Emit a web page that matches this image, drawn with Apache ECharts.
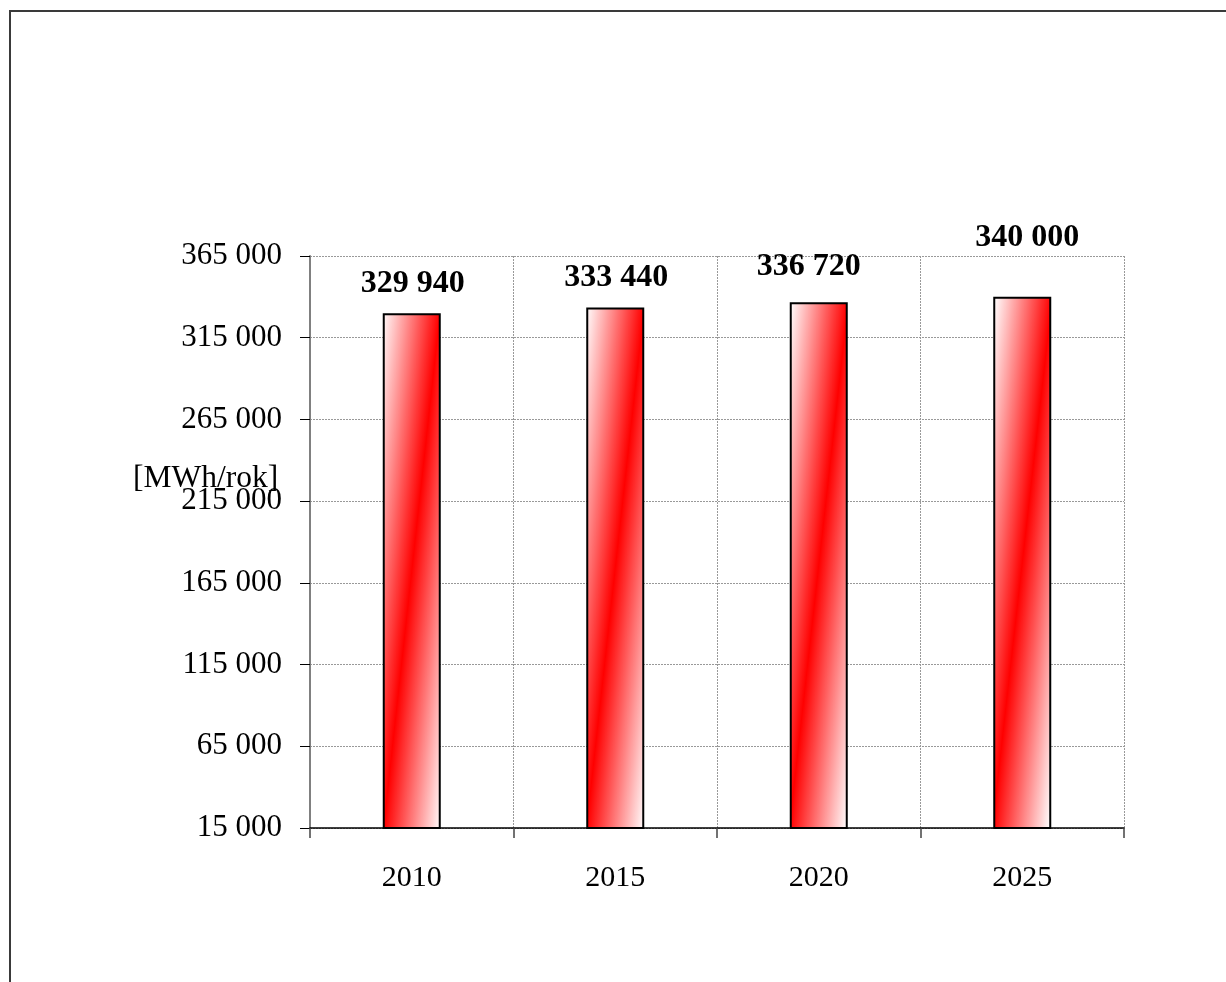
<!DOCTYPE html>
<html>
<head>
<meta charset="utf-8">
<script src="https://cdn.jsdelivr.net/npm/echarts@6/dist/echarts.min.js"></script>
<style>
html,body{margin:0;padding:0;background:#fff;}
#c{width:1226px;height:982px;}
</style>
</head>
<body>
<div id="c"></div>
<script>
const categories = ['2010', '2015', '2020', '2025'];
const values = [329940, 333440, 336720, 340000];
const yMin = 15000;
const yMax = 365000;
const yInterval = 50000;
const unitLabel = '[MWh/rok]';
const labelOffsets = [[1, -9], [1, -9], [-10, -14], [5, -38]];

function fmt(v) {
  return String(v).replace(/\B(?=(\d{3})+(?!\d))/g, ' ');
}

const serif = '"Liberation Serif", "Times New Roman", serif';

const barGradient = {
  type: 'linear',
  x: -0.488, y: 0.4878, x2: 1.488, y2: 0.5122,
  colorStops: [
    { offset: 0, color: '#ffffff' },
    { offset: 0.5, color: '#ff0000' },
    { offset: 1, color: '#ffffff' }
  ]
};

const chart = echarts.init(document.getElementById('c'), null, { renderer: 'canvas' });
chart.setOption({
  backgroundColor: '#ffffff',
  animation: false,
  graphic: [
    {
      type: 'rect',
      shape: { x: 10, y: 11, width: 1400, height: 1200 },
      style: { fill: null, stroke: '#3a3a3a', lineWidth: 2 },
      z: 100
    },
    {
      type: 'text',
      left: 133,
      top: 463,
      style: { text: unitLabel, font: '31.5px ' + serif, fill: '#000' },
      z: 50
    }
  ],
  grid: { left: 310, right: 102, top: 256, bottom: 154 },
  xAxis: {
    type: 'category',
    data: categories,
    boundaryGap: true,
    axisLine: { show: true, lineStyle: { color: '#000', width: 1.5 } },
    axisTick: { show: true, alignWithLabel: false, length: 10, lineStyle: { color: '#444', width: 1.5 } },
    axisLabel: { margin: 35, fontFamily: serif, fontSize: 30, color: '#000' },
    splitLine: { show: true, lineStyle: { color: '#999', type: [2, 1], width: 1 } }
  },
  yAxis: {
    type: 'value',
    min: yMin,
    max: yMax,
    interval: yInterval,
    axisLine: { show: true, lineStyle: { color: '#808080', width: 2 } },
    axisTick: { show: true, inside: false, length: 10, lineStyle: { color: '#000', width: 1 } },
    axisLabel: { margin: 28, fontFamily: serif, fontSize: 31, color: '#000', formatter: fmt },
    splitLine: { show: true, lineStyle: { color: '#999', type: [2, 1], width: 1 } }
  },
  series: [{
    type: 'bar',
    barWidth: 58,
    data: values.map((v, i) => ({
      value: v,
      label: { offset: labelOffsets[i] }
    })),
    itemStyle: { color: barGradient, borderColor: '#000', borderWidth: 2 },
    label: {
      show: true,
      position: 'top',
      distance: 5,
      fontFamily: serif,
      fontSize: 32,
      fontWeight: 'bold',
      color: '#000',
      formatter: p => fmt(p.value)
    }
  }]
});
</script>
</body>
</html>
